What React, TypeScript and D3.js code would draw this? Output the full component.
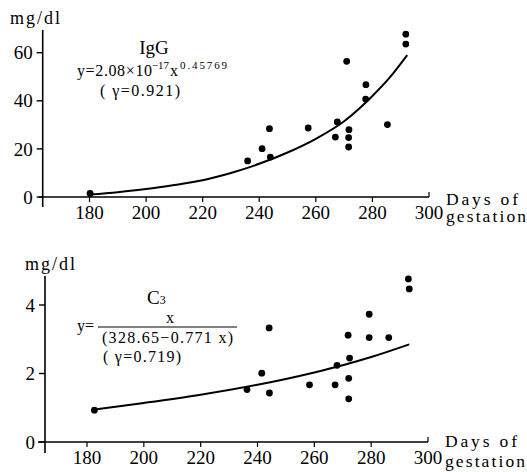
import React from 'react';
import * as d3 from 'd3';

const X_TICKS = [180, 200, 220, 240, 260, 280, 300];

// IgG panel
const IGG_Y_TICKS = [0, 20, 40, 60];
const IGG_DAYS = [180.2, 235.9, 241.0, 243.6, 243.9, 257.3, 266.9, 267.6, 270.9, 271.7, 271.6, 271.6, 277.7, 277.6, 285.3, 291.8, 291.8];
const IGG_VALUES = [1.5, 15, 20.1, 28.4, 16.6, 28.7, 24.9, 31.2, 56.4, 28, 24.7, 20.8, 46.7, 40.7, 30.1, 67.7, 63.6];
const IGG_FIT_DAYS = [180, 190, 200, 210, 220, 230, 240, 250, 260, 270, 280, 286, 292.3];
const IGG_FIT_VALUES = [1.0, 2.0, 3.3, 5.0, 7.0, 10, 13.8, 18.5, 24.2, 31.5, 42, 49.5, 59];

// C3 panel
const C3_Y_TICKS = [0, 2, 4];
const C3_DAYS = [182.6, 236.3, 241.5, 244.1, 244.2, 258.3, 267.3, 268.0, 271.9, 272.4, 272.1, 272.1, 279.3, 279.3, 286.2, 293.1, 293.4];
const C3_VALUES = [0.93, 1.53, 2.01, 3.33, 1.43, 1.67, 1.67, 2.24, 3.12, 2.45, 1.86, 1.26, 3.73, 3.05, 3.05, 4.76, 4.47];
const C3_FIT_DAYS = [182.6, 200, 220, 240, 260, 270, 280, 293.4];
const C3_FIT_VALUES = [0.95, 1.14, 1.38, 1.67, 2.03, 2.24, 2.48, 2.85];

type PanelProps = {
  xRange: [number, number];
  yDomain: [number, number];
  yRange: [number, number];
  yTicks: number[];
  axisX: number;
  axisTop: number;
  axisBottom: number;
  lineStart: number;
  days: number[];
  values: number[];
  fitDays: number[];
  fitValues: number[];
  labelX: number;
  labelY: number;
  daysX: number;
  daysY: number;
  gestY: number;
};

function Panel(p: PanelProps) {
  const x = d3.scaleLinear().domain([180, 300]).range(p.xRange);
  const y = d3.scaleLinear().domain(p.yDomain).range(p.yRange);
  const y0 = y(0);
  const fit = d3.line<number>()
    .x((d, i) => x(p.fitDays[i]))
    .y((d) => y(d))
    .curve(d3.curveMonotoneX);

  return (
    <g>
      {/* axes */}
      <line x1={p.axisX} x2={p.axisX} y1={p.axisTop} y2={p.axisBottom} stroke="#000" strokeWidth={1.6} />
      <line x1={p.lineStart} x2={x(300)} y1={y0} y2={y0} stroke="#000" strokeWidth={1.6} />
      {p.yTicks.map((t) => (
        <g key={'y' + t}>
          <line x1={p.axisX - 6} x2={p.axisX} y1={y(t)} y2={y(t)} stroke="#000" strokeWidth={1.4} />
          <text x={p.axisX - 10} y={y(t)} dy="0.35em" textAnchor="end" fontSize={19}>{t}</text>
        </g>
      ))}
      {X_TICKS.map((t) => (
        <g key={'x' + t}>
          <line x1={x(t)} x2={x(t)} y1={y0} y2={t === 300 ? y0 - 5 : y0 + 5} stroke="#000" strokeWidth={1.2} />
          <text x={x(t)} y={y0 + 22} textAnchor="middle" fontSize={19}>{t}</text>
        </g>
      ))}
      <text x={p.labelX} y={p.labelY} fontSize={18} textLength={50} lengthAdjust="spacing">mg/dl</text>
      <text x={p.daysX} y={p.daysY} fontSize={17.5} textLength={72} lengthAdjust="spacing">Days of</text>
      <text x={p.daysX} y={p.gestY} fontSize={17.5} textLength={80} lengthAdjust="spacing">gestation</text>

      {/* fit curve */}
      <path d={fit(p.fitValues) || ''} fill="none" stroke="#000" strokeWidth={2} />
      {/* observations */}
      {p.days.map((d, i) => (
        <circle key={i} cx={x(d)} cy={y(p.values[i])} r={3.4} fill="#000" />
      ))}
    </g>
  );
}

export default function App() {
  return (
    <svg width={527} height={472} style={{ position: 'absolute', left: 0, top: 0, background: '#fff' }} fill="#000">
      <style>{`text { font-family: 'Liberation Serif', 'Times New Roman', serif; }`}</style>
      <Panel
        xRange={[89.5, 429]} yDomain={[0, 60]} yRange={[197, 52.7]} yTicks={IGG_Y_TICKS}
        axisX={42.7} axisTop={30} axisBottom={207} lineStart={39}
        days={IGG_DAYS} values={IGG_VALUES} fitDays={IGG_FIT_DAYS} fitValues={IGG_FIT_VALUES}
        labelX={10} labelY={24} daysX={446} daysY={205} gestY={222}
      />
      <text x={154} y={54} textAnchor="middle" fontSize={19}>IgG</text>
      <text x={77} y={76} fontSize={16} textLength={75} lengthAdjust="spacing">y=2.08×10</text>
      <text x={152} y={69} fontSize={11} textLength={17} lengthAdjust="spacing">−17</text>
      <text x={170} y={76} fontSize={16}>x</text>
      <text x={180} y={69} fontSize={11} textLength={47} lengthAdjust="spacing">0.45769</text>
      <text x={100} y={96} fontSize={16} textLength={80} lengthAdjust="spacing">( γ=0.921)</text>

      <Panel
        xRange={[87, 428]} yDomain={[0, 4]} yRange={[442, 305]} yTicks={C3_Y_TICKS}
        axisX={45} axisTop={276} axisBottom={453} lineStart={38}
        days={C3_DAYS} values={C3_VALUES} fitDays={C3_FIT_DAYS} fitValues={C3_FIT_VALUES}
        labelX={25} labelY={270} daysX={445} daysY={447} gestY={467}
      />
      <text x={147} y={304} fontSize={19}>C<tspan fontSize={12}>3</tspan></text>
      <text x={77} y={331} fontSize={16}>y=</text>
      <line x1={98} x2={237} y1={327} y2={327} stroke="#000" strokeWidth={1} />
      <text x={170} y={323} textAnchor="middle" fontSize={16}>x</text>
      <text x={102} y={343} fontSize={16} textLength={131} lengthAdjust="spacing">(328.65−0.771 x)</text>
      <text x={103} y={362} fontSize={16} textLength={78} lengthAdjust="spacing">( γ=0.719)</text>
    </svg>
  );
}
